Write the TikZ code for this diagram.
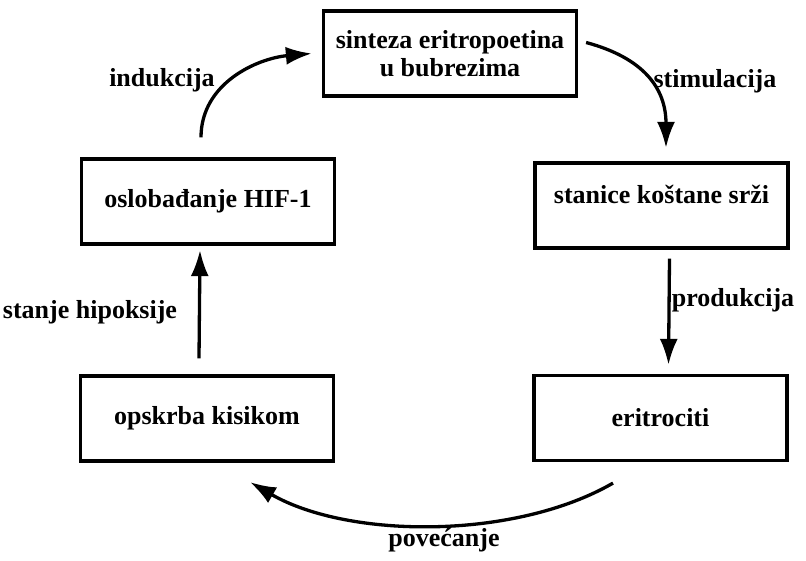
\documentclass[tikz,border=0pt]{standalone}
\usepackage{fontspec}
\setmainfont{Liberation Serif}
\usepackage{tikz}
\usetikzlibrary{arrows.meta}

\begin{document}
\begin{tikzpicture}[x=1pt, y=1pt,
    kutija/.style={draw, line width=3.2pt, minimum width=253pt, minimum height=85pt, align=center, font=\fontsize{26}{28}\selectfont\bfseries},
    natpis/.style={anchor=base, font=\fontsize{26}{28}\selectfont\bfseries},
    strelica/.style={line width=3.3pt, arrows={-Latex[length=26pt,width=18pt]}}]
  \useasboundingbox (0,0) rectangle (806,-561);
  \node [kutija] (epo) at (450,-53.5) {sinteza eritropoetina\\u bubrezima}; % gore
  \node [kutija] (hif) at (208,-201.5) {oslobađanje HIF-1};
  \node [kutija, text height=17pt, text depth=21pt] (srz) at (661.5,-205.5) {stanice koštane srži};
  \node [kutija] (kisik) at (207,-418.5) {opskrba kisikom};
  \node [kutija] (eri) at (660.5,-418) {eritrociti};
  % natpisi
  \node [natpis] (ind) at (162,-87) {indukcija};
  \node [natpis] (stim) at (715,-88) {stimulacija};
  \node [natpis] (hipo) at (90,-319) {stanje hipoksije};
  \node [natpis] (prod) at (733,-307) {produkcija};
  \node [natpis] (pov) at (444,-546) {povećanje};
  % strelice
  \draw [strelica] ([xshift=-7pt,yshift=20pt]hif.north) to [out=90, in=185] ([xshift=-10pt]epo.west); % indukcija
  \draw [strelica] ([xshift=8pt,yshift=11pt]epo.east) to [out=-15, in=90, looseness=1.15] ([xshift=4.5pt,yshift=13.5pt]srz.north); % stimulacija
  \draw [strelica] ([xshift=8pt,yshift=-9pt]srz.south) -- ([xshift=8pt,yshift=9pt]eri.north); % produkcija
  \draw [strelica] ([xshift=-8pt,yshift=16pt]kisik.north) -- ([xshift=-8pt,yshift=-4.5pt]hif.south); % hipoksija
  \draw [strelica] ([xshift=-47.5pt,yshift=-21pt]eri.south) to [out=210, in=-30, looseness=0.8] ([xshift=43pt,yshift=-19.5pt]kisik.south); % povecanje
\end{tikzpicture}
\end{document}
